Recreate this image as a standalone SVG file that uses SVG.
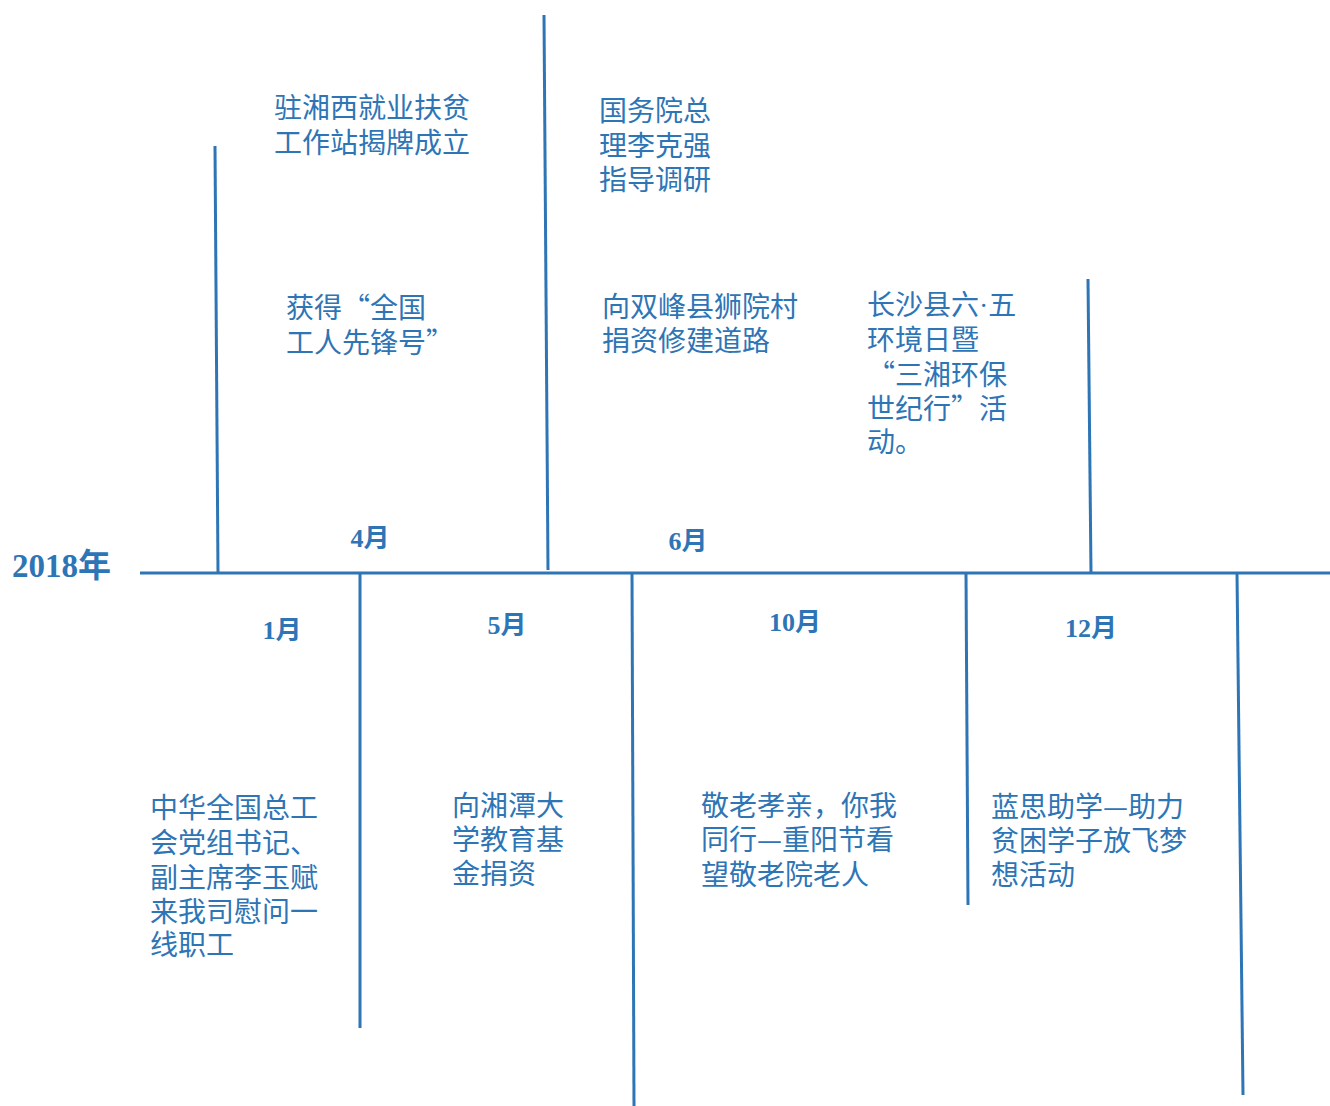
<svg xmlns="http://www.w3.org/2000/svg" width="1330" height="1106" viewBox="0 0 1330 1106">
<style>
.ln{stroke:#2E75B6;stroke-width:3;fill:none}
.ev{font-family:"Noto Sans CJK SC","Liberation Serif",sans-serif;font-size:28px;fill:#2E75B6}
.dot{font-family:"Liberation Serif",serif}
.mo{font-family:"Liberation Serif","Noto Sans CJK SC",serif;font-size:26px;font-weight:bold;fill:#2E75B6;text-anchor:middle}
.yr{font-family:"Liberation Serif","Noto Sans CJK SC",serif;font-size:33px;font-weight:bold;fill:#2E75B6}
</style>
<rect width="1330" height="1106" fill="#fff"/>
<g id="connectors">
<line class="ln" x1="140" y1="573" x2="1330" y2="573"/>
<line class="ln" x1="215" y1="146" x2="218" y2="573"/>
<line class="ln" x1="544" y1="15" x2="548" y2="570"/>
<line class="ln" x1="1088" y1="279" x2="1091" y2="573"/>
<line class="ln" x1="360" y1="573" x2="360" y2="1028"/>
<line class="ln" x1="632" y1="573" x2="634" y2="1106"/>
<line class="ln" x1="966" y1="573" x2="968" y2="905"/>
<line class="ln" x1="1237" y1="573" x2="1243" y2="1095"/>
</g>
<g id="year"><text class="yr" x="12" y="577">2018年</text></g>
<g id="m4"><text class="mo" x="370" y="547">4月</text></g>
<g id="m6"><text class="mo" x="688" y="550">6月</text></g>
<g id="m1"><text class="mo" x="282" y="639">1月</text></g>
<g id="m5"><text class="mo" x="507" y="634">5月</text></g>
<g id="m10"><text class="mo" x="795" y="631">10月</text></g>
<g id="m12"><text class="mo" x="1091" y="637">12月</text></g>
<g id="e1"><text class="ev" x="274" y="118">驻湘西就业扶贫</text><text class="ev" x="274" y="153">工作站揭牌成立</text></g>
<g id="e2"><text class="ev" x="286" y="318">获得“全国</text><text class="ev" x="286" y="353">工人先锋号”</text></g>
<g id="e3"><text class="ev" x="599" y="121">国务院总</text><text class="ev" x="599" y="156">理李克强</text><text class="ev" x="599" y="190">指导调研</text></g>
<g id="e4"><text class="ev" x="602" y="317">向双峰县狮院村</text><text class="ev" x="602" y="351">捐资修建道路</text></g>
<g id="e5"><text class="ev" x="867" y="315">长沙县六<tspan class="dot">·</tspan>五</text><text class="ev" x="867" y="350">环境日暨</text><text class="ev" x="867" y="385">“三湘环保</text><text class="ev" x="867" y="419">世纪行”活</text><text class="ev" x="867" y="452">动。</text></g>
<g id="e6"><text class="ev" x="150" y="818">中华全国总工</text><text class="ev" x="150" y="853">会党组书记、</text><text class="ev" x="150" y="888">副主席李玉赋</text><text class="ev" x="150" y="922">来我司慰问一</text><text class="ev" x="150" y="955">线职工</text></g>
<g id="e7"><text class="ev" x="452" y="816">向湘潭大</text><text class="ev" x="452" y="850">学教育基</text><text class="ev" x="452" y="884">金捐资</text></g>
<g id="e8"><text class="ev" x="701" y="816">敬老孝亲，你我</text><text class="ev" x="701" y="850">同行—重阳节看</text><text class="ev" x="701" y="885">望敬老院老人</text></g>
<g id="e9"><text class="ev" x="991" y="817">蓝思助学—助力</text><text class="ev" x="991" y="851">贫困学子放飞梦</text><text class="ev" x="991" y="885">想活动</text></g>
</svg>
